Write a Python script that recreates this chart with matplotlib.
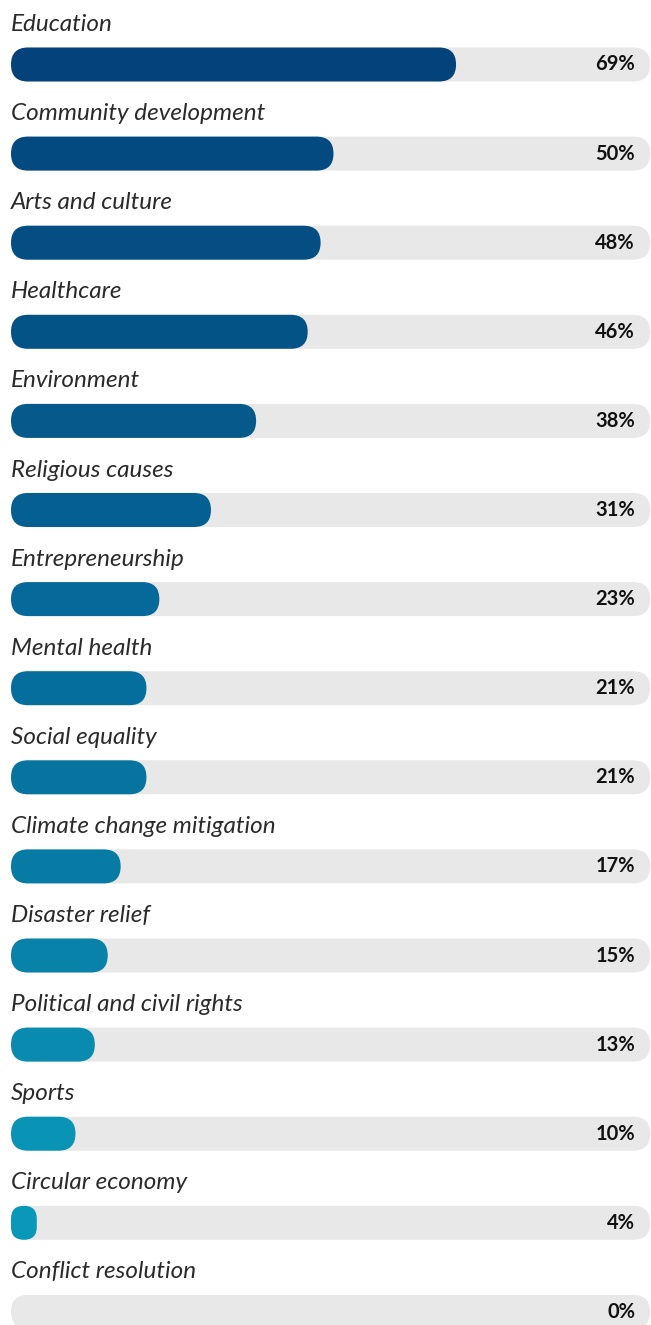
import matplotlib.pyplot as plt
from matplotlib.patches import FancyBboxPatch

# Data
causes = ['Education', 'Community development', 'Arts and culture', 'Healthcare',
          'Environment', 'Religious causes', 'Entrepreneurship', 'Mental health',
          'Social equality', 'Climate change mitigation', 'Disaster relief',
          'Political and civil rights', 'Sports', 'Circular economy',
          'Conflict resolution']
shares = [69, 50, 48, 46, 38, 31, 23, 21, 21, 17, 15, 13, 10, 4, 0]
bar_colors = ['#03427a', '#034a80', '#044e84', '#045387', '#05598b', '#055f90',
              '#066999', '#066e9c', '#0774a0', '#077ba4', '#0882a8', '#088baf',
              '#0993b5', '#0a98b8', '#0a98b8']

# Layout (pixel geometry of the figure)
W, H = 651, 1325
x0_px = 11          # left edge of the bars
px_per_pct = 6.45   # bar length per percent
row_px = 89.1       # spacing between rows
first_px = 64.5     # centre of first bar
bar_px = 34         # bar height
track_end = 99.1    # grey track length (in %)

fig = plt.figure(figsize=(W / 100, H / 100), dpi=100)
ax = fig.add_axes([0, 0, 1, 1])
ax.set_xlim(-x0_px / px_per_pct, (W - x0_px) / px_per_pct)
ax.set_ylim((H - first_px) / row_px, -first_px / row_px)
ax.axis('off')

xu = 1 / px_per_pct   # % per pixel
yu = 1 / row_px       # rows per pixel
h = bar_px * yu


def pill(x, y, w, color):
    r_px = min(bar_px / 2, w / xu / 2)
    p = FancyBboxPatch((x, y - h / 2), w, h,
                       boxstyle='round,pad=0,rounding_size=%f' % (r_px * xu),
                       mutation_aspect=yu / xu, fc=color, ec='none', lw=0)
    ax.add_patch(p)


for i, (name, v, c) in enumerate(zip(causes, shares, bar_colors)):
    pill(0, i, track_end, '#e8e8e8')
    if v > 0:
        pill(0, i, v, c)
    ax.text(0, i - 0.375, name, ha='left', va='baseline', fontsize=17.5,
            family='Lato', style='italic', fontweight='normal', color='#2a2a2a')
    ax.text((635 - x0_px) / px_per_pct, i, '%d%%' % v, ha='right', va='center',
            fontsize=14.5, family='Lato', fontweight='bold', color='#111111')

fig.savefig('out.png', dpi=100)
